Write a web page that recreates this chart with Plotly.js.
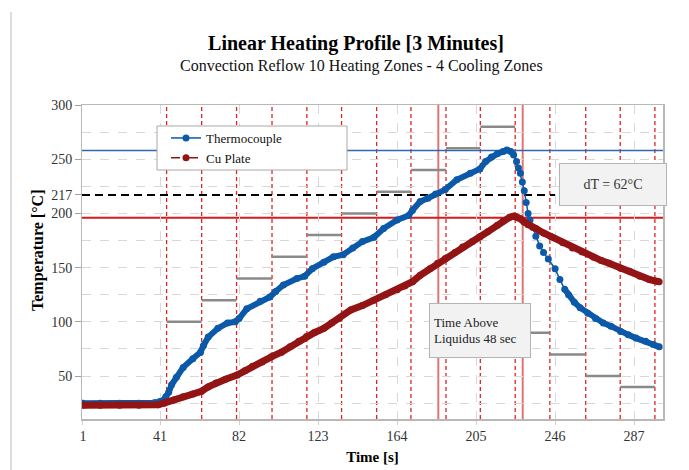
<!DOCTYPE html>
<html>
<head>
<meta charset="utf-8">
<script src="https://cdn.plot.ly/plotly-3.0.1.min.js"></script>
<style>html,body{margin:0;padding:0;background:#fff;}#chart{width:689px;height:470px;}</style>
</head>
<body>
<div id="chart"></div>
<script>
// ---- Data ----
const tcTime = [1,10,20,30,38,41,43,44,45.5,47,49.5,53,58,62,63.5,66,71,76,80,82,86,93,98,101,105,112,116,120,126,131,136,141,146,152,157,164,170,172,176,180,184,189,195,202,207,210,213,216,219,221,223,224.5,226,227,228,229,230,231,232,233,234.5,236,238,240,242.5,246,248.5,251,253,256,259,263,267,271,275,280,284,288,293,297,300];
const tcTemp = [25,25,25,25,25.5,26.5,28,31,35,42,49,58,66,72,78,86,94,99,100,103,112,119,123,128,134,140,142,149,155,160,162,168,174,178,186,194,198,203,211,214,218,222,231,237,241,248,252,255,257,258.5,257,254,248,242,237,229,221,210,200,194,187,179,170,164,158,149,139,130,125,118,113,108,103,99,96,91,88,85,82,79,77];

const cuTime = [1,10,20,30,40,43,48,53,58,62.5,66,70,75,81,85,89,94,99,104,108.5,113,117,121,126,130,134,140,146,152,158,164,168,172,176,181,185,189,194,198,203,207,211,216,219,222.5,224.5,226,228,230,232,236,240,244,250,255,260,266,270,274,280,285,290,295,300];
const cuTemp = [23,23,23,23,23.5,25,28,31,33.5,36,40,43.5,47,51,55,59,63,68,72,77,82,86.5,90,94,99,103,111,115,120,125,129.5,133,137,143,149,154,158.5,164,169,174,178.5,183,189,193,196.5,197.5,197,195,192,189.5,186,182,178.5,173,168,164.5,159.5,156.5,154,149.5,146.5,142,139,137];

const xTickVals = [1,41,82,123,164,205,246,287];
const xTickText = ['1','41','82','123','164','205','246','287'];
const yTickVals = [50,100,150,200,217,250,300];
const yTickText = ['50','100','150','200','217','250','300'];

const zoneEdges = [44.4,62.6,80.7,99.1,117.2,135.2,153.4,171.2,189.4,207.2,225.3,243.3,261.9,279.8,297.8];
const zoneSetpoints = [100,120,140,160,180,200,220,240,260,280,90,70,50,40];

const liquidusTemp = 217;
const liquidusLineEnd = 246;
const peakTc = 258;
const peakCu = 196;
const liquidusTimes = [185.4,229.2];

// ---- Styles ----
const FONT = 'Liberation Serif';
const BLUE = '#0b59a8';
const DRED = '#931414';

const tcBand = tcTemp.map((v,i)=> (tcTime[i] <= 224.5 || tcTime[i] >= 251) ? v : null);

const traces = [
  {x: tcTime, y: tcBand, mode:'lines', line:{color:BLUE,width:6}, showlegend:false, hoverinfo:'skip', connectgaps:false},
  {x: tcTime, y: tcTemp, mode:'lines+markers', name:'Thermocouple', line:{color:BLUE,width:1.5}, marker:{color:BLUE,size:7}},
  {x: cuTime, y: cuTemp, mode:'lines', line:{color:DRED,width:7}, showlegend:false, hoverinfo:'skip'},
  {x: cuTime, y: cuTemp, mode:'lines+markers', name:'Cu Plate', line:{color:DRED,width:1.5,dash:'dash'}, marker:{color:DRED,size:7}},
  {x:[1], y:[300], yaxis:'y2', mode:'markers', marker:{opacity:0}, showlegend:false, hoverinfo:'skip'}
];

const shapes = [];
zoneEdges.forEach(t=>shapes.push({type:'line', layer:'between', xref:'x', yref:'paper', x0:t, x1:t, y0:0, y1:1, line:{color:'#e02424', width:1.3, dash:'4px,3px'}}));
zoneSetpoints.forEach((s,i)=>shapes.push({type:'line', layer:'between', xref:'x', yref:'y', x0:zoneEdges[i], x1:zoneEdges[i+1], y0:s, y1:s, line:{color:'#8a8a8a', width:2.5}}));
liquidusTimes.forEach(t=>shapes.push({type:'line', layer:'between', xref:'x', yref:'paper', x0:t, x1:t, y0:0, y1:1, line:{color:'#e27474', width:2}}));
shapes.push({type:'line', layer:'between', xref:'paper', yref:'y', x0:0, x1:1, y0:peakTc, y1:peakTc, line:{color:'#2e68b0', width:1.6}});
shapes.push({type:'line', layer:'between', xref:'paper', yref:'y', x0:0, x1:1, y0:peakCu, y1:peakCu, line:{color:'#d41c1c', width:2}});
shapes.push({type:'line', layer:'between', xref:'x', yref:'y', x0:0.5, x1:liquidusLineEnd, y0:liquidusTemp, y1:liquidusTemp, line:{color:'#000', width:2, dash:'8px,5px'}});
shapes.push({type:'rect', layer:'above', xref:'paper', yref:'paper', x0:(157-82)/581, x1:(347-82)/581, y0:(419-170)/314, y1:(419-126)/314, fillcolor:'#fff', line:{color:'#a8a8a8', width:1}});
shapes.push({type:'line', layer:'above', xref:'paper', yref:'paper', x0:(11-82)/581, x1:(11-82)/581, y0:(419-12)/314, y1:(419-475)/314, line:{color:'#d0d0d0', width:1.5}});

const layout = {
  width:689, height:470,
  margin:{l:82, r:26, t:105, b:51, pad:0},
  paper_bgcolor:'#fff', plot_bgcolor:'#fff',
  font:{family:FONT, color:'#333', size:13},
  title:{text:'<b>Linear Heating Profile [3 Minutes]</b>', font:{family:FONT, size:20, color:'#000'}, x:356/689, xanchor:'center', xref:'container', yref:'container', y:1-43/470, yanchor:'middle'},
  xaxis:{range:[0.5,302], tickmode:'array', tickvals:xTickVals, ticktext:xTickText, showgrid:true, gridcolor:'#d8d8d8', griddash:'dash', gridwidth:1,
         zeroline:false, showline:true, mirror:true, linecolor:'#b8b8b8', linewidth:1.5, ticks:'outside', ticklen:4, tickcolor:'#d0d0d0',
         tickfont:{family:FONT, size:14, color:'#333'},
         title:{text:'<b>Time [s]</b>', font:{family:FONT, size:15, color:'#000'}, standoff:8}},
  yaxis:{range:[10.4,300], tickmode:'linear', tick0:0, dtick:25, showticklabels:false, showgrid:true, gridcolor:'#d8d8d8', griddash:'dash', gridwidth:1,
         zeroline:false, showline:true, mirror:true, linecolor:'#b8b8b8', linewidth:1.5, ticks:''},
  yaxis2:{range:[10.4,300], overlaying:'y', side:'left', tickmode:'array', tickvals:yTickVals, ticktext:yTickText, showgrid:false, zeroline:false,
          ticks:'outside', ticklen:6, tickcolor:'#a0a0a0', tickfont:{family:FONT, size:14, color:'#333'}},
  showlegend:true,
  legend:{x:(166-82)/581, y:(419-123)/314, xanchor:'left', yanchor:'top', bgcolor:'rgba(0,0,0,0)', borderwidth:0,
          font:{family:FONT, size:13, color:'#111'}, tracegroupgap:0},
  shapes:shapes,
  annotations:[
    {text:'Convection Reflow 10 Heating Zones - 4 Cooling Zones', xref:'paper', yref:'paper', x:(361.5-82)/581, y:(419-66)/314, xanchor:'center', yanchor:'middle', showarrow:false, font:{family:FONT, size:16, color:'#111'}},
    {text:'<b>Temperature [°C]</b>', xref:'paper', yref:'paper', x:(38-82)/581, y:(419-251)/314, xanchor:'center', yanchor:'middle', textangle:-90, showarrow:false, font:{family:FONT, size:16, color:'#000'}},
    {text:'dT = 62°C', xref:'paper', yref:'paper', x:(613-82)/581, y:(419-184.5)/314, xanchor:'center', yanchor:'middle', showarrow:false,
     width:98, height:33, borderpad:4, borderwidth:1, bordercolor:'#b4b4b4', bgcolor:'#f2f2f2', font:{family:FONT, size:14, color:'#333'}},
    {text:'Time Above<br>Liquidus 48 sec', xref:'paper', yref:'paper', x:(480-82)/581, y:(419-330.5)/314, xanchor:'center', yanchor:'middle', showarrow:false, align:'left',
     width:92, height:45, borderpad:4, borderwidth:1, bordercolor:'#b4b4b4', bgcolor:'#f2f2f2', font:{family:FONT, size:13, color:'#222'}}
  ]
};

Plotly.newPlot('chart', traces, layout, {displayModeBar:false, staticPlot:true});
</script>
</body>
</html>
